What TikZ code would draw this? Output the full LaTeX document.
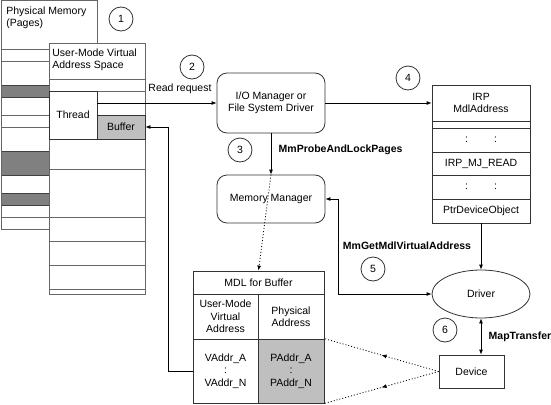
\documentclass[tikz,border=0pt]{standalone}
\usepackage{fontspec}
\setmainfont{Liberation Sans}
\usetikzlibrary{arrows.meta}
\usetikzlibrary{shapes.geometric}
\usetikzlibrary{decorations.markings}

\begin{document}
\begin{tikzpicture}[x=1pt,y=-1pt,
	font=\fontsize{10.5}{12.5}\selectfont,
	line width=0.8pt,
	mline/.style={draw=black!60},
	page/.style={fill=black!50, draw=black!75},
	cell/.style 2 args={draw=black!80, minimum width=#1, minimum height=#2, inner sep=0pt, align=center},
	proc/.style={draw=black!80, rounded corners=10pt, minimum width=108pt, inner sep=0pt, align=center},
	num/.style={draw=black!80, circle, minimum size=24pt, inner sep=0pt},
	arr/.style={-{Latex[length=5pt,width=4pt]}},
	arrs/.style={{Latex[length=5pt,width=4pt]}-{Latex[length=5pt,width=4pt]}},
	dots/.style={dash pattern=on 1pt off 2pt},
	midarr/.style={postaction={decorate},
		decoration={markings, mark=at position 0.5 with {\arrow{Latex[length=5pt,width=4pt]}}}},
	lbl/.style={font=\fontsize{10.5}{12.5}\selectfont\bfseries}
	]
		
		\useasboundingbox (0,0) rectangle (551,404);
		
		% physical memory
		\draw[page] (1,85) rectangle (49,97);
		\draw[page] (1,151) rectangle (49,175);
		\draw[page] (1,193) rectangle (49,205);
		\draw[mline] (1,229) -- (1,0) -- (97,0) -- (97,43);
		\foreach \y in {49,61,115,127,229} \draw[mline] (1,\y) -- (49,\y);
		\draw[mline] (1,217) -- (145,217);
		\node[anchor=north west, align=left, inner sep=0pt] (phystitle) at (6,6) {Physical Memory\\(Pages)};
		
		% virtual address space
		\draw[mline] (49,43) rectangle (145,294);
		\foreach \y in {79,91,169,241,265,289} \draw[mline] (49,\y) -- (145,\y);
		\node[anchor=north west, align=left, inner sep=0pt] (vastitle) at (52,48) {User-Mode Virtual\\Address Space};
		\node[cell={48pt}{48pt}] (thread) at (73,115) {Thread};
		\node[cell={48pt}{24pt}, fill=black!25] (buffer) at (121,127) {Buffer};
		
		\node[proc, minimum height=60pt] (iom) at (271,103) {I/O Manager or\\File System Driver};
		\node[proc, minimum height=48pt] (mm) at (271,199) {Memory Manager};
		
		% IRP
		\node[cell={98pt}{36pt}] (irptop) at (481,103) {IRP\\MdlAddress};
		\node[cell={98pt}{7pt}] (irpgap) at (481,124.5) {};
		\node[cell={98pt}{24pt}] (irpdotsa) at (481,140) {:\hspace{26pt}:};
		\node[cell={98pt}{23pt}] (irpread) at (481,163.5) {IRP\_MJ\_READ};
		\node[cell={98pt}{24pt}] (irpdotsb) at (481,187) {:\hspace{26pt}:};
		\node[cell={98pt}{24pt}] (irpdev) at (481,211) {PtrDeviceObject};
		
		% MDL
		\node[cell={131pt}{23pt}] (mdltop) at (258.5,282.5) {MDL for Buffer};
		\node[cell={65pt}{45pt}] (vahead) at (225.5,316.5) {User-Mode\\Virtual\\Address};
		\node[cell={66pt}{45pt}] (pahead) at (291,316.5) {Physical\\Address};
		\node[cell={65pt}{64pt}] (vacell) at (225.5,371) {VAddr\_A\\:\\VAddr\_N};
		\node[cell={66pt}{64pt}, fill=black!25] (pacell) at (291,371) {PAddr\_A\\:\\PAddr\_N};
		
		\node[draw=black!80, ellipse, minimum width=98pt, minimum height=48pt, inner sep=0pt] (driver) at (481,294) {Driver};
		\node[cell={65pt}{33pt}] (device) at (471.5,371.5) {Device};
		
		\node[num] (n1) at (121,19) {1};
		\node[num] (n2) at (192,67) {2};
		\node[num] (n3) at (240,150) {3};
		\node[num] (n4) at (408,78) {4};
		\node[num] (n5) at (373,269) {5};
		\node[num] (n6) at (445,330) {6};
		
		\coordinate (readfrom) at (97,103);
		\draw[arr] (readfrom) -- (readfrom -| iom.west);
		\node (readlbl) at (180,89) {Read request};
		
		\draw[arr] (iom) -- (irptop);
		\draw[arr] (iom) -- (mm);
		\node[lbl, anchor=west] (probelbl) at (275,150) {MmProbeAndLockPages};
		\draw[dots, arr] (mm.north) -- (mdltop.north);
		
		\draw[arr] (irpdev) -- (driver);
		\draw[arr] (vacell.west) -- ++(-24,0) |- (buffer.east);
		\draw[arrs] (mm.east) -- ++(13,0) |- (driver.west);
		\node[lbl] (getlbl) at (407,246) {MmGetMdlVirtualAddress};
		
		\draw[arrs] (driver.south) -- (driver.south |- device.north);
		\node[lbl, anchor=west] (maplbl) at (485,337) {MapTransfer};
		\draw[dots, midarr] (device.west) -- (pacell.north east);
		\draw[dots, midarr] (device.west) -- (pacell.south east);
		
	\end{tikzpicture}
\end{document}
